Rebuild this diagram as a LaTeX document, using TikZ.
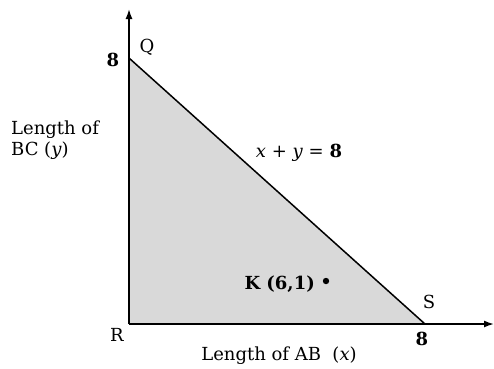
\documentclass[tikz,border=0pt]{standalone}
\usepackage{fontspec}
\setmainfont{DejaVu Serif}
\usetikzlibrary{arrows.meta}
\begin{document}
\begin{tikzpicture}[x=1pt,y=-1pt,
  lbl/.style={inner sep=0pt,font=\fontsize{18}{21}\selectfont},
  axis/.style={line width=1.6pt,-{Latex[length=10pt,width=7pt]}}]
\useasboundingbox (0,0) rectangle (494,368);
\coordinate (R) at (129,324);
\coordinate (Q) at (129,58);
\coordinate (S) at (425,324);
\coordinate (yend) at (129,9);
\coordinate (xend) at (494,324);
\fill[gray!30] (R) -- (Q) -- (S) -- cycle;
\draw[line width=1.5pt] (Q) -- (S);
\draw[axis] (R) -- (yend);
\draw[axis] (R) -- (xend);
\node[lbl] (q) at (147,47) {Q};
\node[lbl] (q8) at (113,60) {\textbf{8}};
\node[lbl,align=left,anchor=west] (ylab) at (11,140) {Length of\\BC (\textit{y})};
\node[lbl] (eq) at (299,153) {\textit{x} + \textit{y} = \textbf{8}};
\node[lbl,anchor=east] (k) at (315,284) {\textbf{K (6,1)}};
\fill (326,281) circle (3.2pt) coordinate (kdot);
\node[lbl] (s) at (429,302) {S};
\node[lbl] (s8) at (422,339) {\textbf{8}};
\node[lbl] (r) at (117,335) {R};
\node[lbl] (xlab) at (279,356) {Length of AB~~(\textit{x})};
\end{tikzpicture}
\end{document}
